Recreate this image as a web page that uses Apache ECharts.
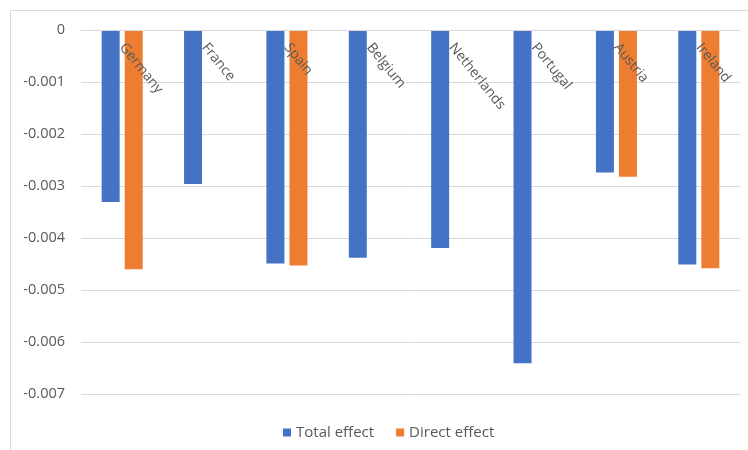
<!DOCTYPE html>
<html>
<head>
<meta charset="utf-8">
<script src="https://cdn.jsdelivr.net/npm/echarts@6/dist/echarts.min.js"></script>
<style>
  html, body { margin: 0; padding: 0; background: #fff; }
  #chart { width: 748px; height: 450px; }
</style>
</head>
<body>
<div id="chart"></div>
<script>
// Countries along the category axis
const countries = ['Germany', 'France', 'Spain', 'Belgium', 'Netherlands', 'Portugal', 'Austria', 'Ireland'];
// Total effect per country
const totalEffect = [-0.00331, -0.00296, -0.00449, -0.00438, -0.00419, -0.00641, -0.00274, -0.00451];
// Direct effect per country (no value for France, Belgium, Netherlands, Portugal)
const directEffect = [-0.00460, null, -0.00453, null, null, null, -0.00282, -0.00458];
// Value axis ticks
const yTicks = [0, -0.001, -0.002, -0.003, -0.004, -0.005, -0.006, -0.007];

const textColor = '#595959';
const fontFamily = '"Open Sans", "Noto Sans", sans-serif';

const chart = echarts.init(document.getElementById('chart'), null, { renderer: 'canvas' });

chart.setOption({
  backgroundColor: '#fff',
  animation: false,
  textStyle: { fontFamily: fontFamily },
  graphic: [
    // chart frame: top and left edges
    { type: 'line', shape: { x1: 10, y1: 10.5, x2: 748, y2: 10.5 }, style: { stroke: '#d9d9d9', lineWidth: 1 } },
    { type: 'line', shape: { x1: 10.5, y1: 10, x2: 10.5, y2: 450 }, style: { stroke: '#d9d9d9', lineWidth: 1 } }
  ],
  grid: { left: 81, right: 8, top: 30, bottom: 56, containLabel: false },
  legend: {
    data: ['Total effect', 'Direct effect'],
    left: 278,
    top: 420,
    itemWidth: 8,
    itemHeight: 8,
    itemGap: 22,
    icon: 'rect',
    textStyle: { color: textColor, fontSize: 15, fontFamily: fontFamily }
  },
  xAxis: {
    type: 'category',
    data: countries,
    position: 'top',
    z: 10,
    axisLine: { show: true, lineStyle: { color: '#d9d9d9' } },
    axisTick: { show: false },
    axisLabel: {
      inside: true,
      rotate: -51,
      margin: 15,
      color: textColor,
      fontSize: 14,
      fontFamily: fontFamily,
      interval: 0
    }
  },
  yAxis: {
    type: 'value',
    min: -0.007,
    max: 0,
    interval: 0.001,
    axisLine: { show: false },
    axisTick: { show: false },
    splitLine: { lineStyle: { color: '#d9d9d9' } },
    axisLabel: {
      color: textColor,
      fontSize: 14.5,
      fontFamily: fontFamily,
      margin: 16,
      formatter: function (v) {
        const t = yTicks.find(function (k) { return Math.abs(k - v) < 1e-9; });
        return t === 0 ? '0' : String(t);
      }
    }
  },
  series: [
    {
      name: 'Total effect',
      type: 'bar',
      data: totalEffect,
      barWidth: 18,
      barGap: '28%',
      itemStyle: { color: '#4472C4' }
    },
    {
      name: 'Direct effect',
      type: 'bar',
      data: directEffect,
      barWidth: 18,
      itemStyle: { color: '#ED7D31' }
    }
  ]
});
</script>
</body>
</html>
